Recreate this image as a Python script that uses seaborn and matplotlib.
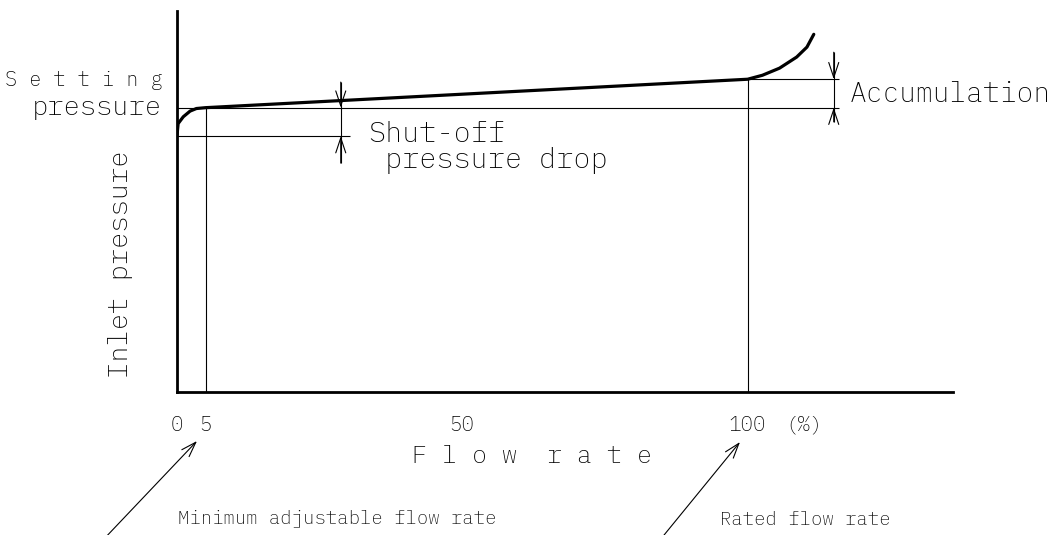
import matplotlib
matplotlib.use("Agg")
import matplotlib.pyplot as plt
import pandas as pd
import seaborn as sns

# valve characteristic
# flow rate in % of rated flow, inlet pressure in % of setting pressure
flow = [0, 0.2, 1.1, 2.3, 3.4, 5, 100, 102.6, 105.6, 108.6, 110.4, 111.6]
pressure = [90.3, 94.4, 96.8, 98.8, 99.7, 100, 110, 111.4, 113.9, 117.8, 121.3, 125.8]

setting_p = 100
shutoff_p = 90
rated_p = 110
min_flow = 5
rated_flow = 100

xticks = [0, 5, 50, 100]
xtick_labels = ["0", "5", "50", "100"]

W, H = 1055, 535


def px(x, y):
    # figure fraction from pixel position (top-left origin)
    return x / W, 1 - y / H


sns.set_theme(style="white")
plt.rcParams['font.family'] = ['IBM Plex Mono', 'DejaVu Sans']
plt.rcParams['font.weight'] = 'light'
plt.rcParams['axes.labelweight'] = 'light'

df = pd.DataFrame({'flow': flow, 'pressure': pressure})

fig = plt.figure(figsize=(W / 100, H / 100), dpi=100)
ax = fig.add_axes([177 / W, (H - 392) / H, 776 / W, 381 / H])

# reference lines
ax.hlines(setting_p, 0, 116, color='black', lw=0.8)
ax.hlines(shutoff_p, 0, 30.3, color='black', lw=0.8)
ax.hlines(rated_p, rated_flow, 116, color='black', lw=0.8)
ax.vlines(min_flow, 0, setting_p, color='black', lw=0.8)
ax.vlines(rated_flow, 0, rated_p, color='black', lw=0.8)

sns.lineplot(data=df, x='flow', y='pressure', sort=False, estimator=None,
             color='black', lw=2.3, ax=ax)

# dimension arrows
arrow = dict(arrowstyle='->,head_length=0.9,head_width=0.3', color='black',
             lw=0.8, shrinkA=0, shrinkB=0)
for xd, top, bottom, lo, hi in [(28.7, 109, 80.5, shutoff_p, setting_p),
                                (115.1, 119.5, 95, setting_p, rated_p)]:
    ax.vlines(xd, bottom, top, color='black', lw=0.8)
    ax.annotate("", xy=(xd, hi), xytext=(xd, top), arrowprops=arrow)
    ax.annotate("", xy=(xd, lo), xytext=(xd, bottom), arrowprops=arrow)

ax.set_xlim(0, 136)
ax.set_ylim(0, 134)
for side in ['top', 'right']:
    ax.spines[side].set_visible(False)
for side in ['left', 'bottom']:
    ax.spines[side].set_linewidth(2)
    ax.spines[side].set_color('black')

ax.set_yticks([])
ax.set_xticks(xticks, xtick_labels)
ax.set_xticks([50], minor=True)
ax.tick_params(axis='x', which='major', length=0, pad=17, labelsize=15,
               labelcolor='black')
ax.tick_params(axis='x', which='minor', bottom=True, direction='in',
               length=8, width=1.5, color='black')

ax.set_xlabel("F l o w  r a t e", fontsize=18, color='black',
              fontweight='light')
ax.xaxis.set_label_coords(0.457, -0.14)
ax.set_ylabel("Inlet pressure", fontsize=19.5, color='black',
              fontweight='light')
ax.yaxis.set_label_coords(-0.057, 0.335)

txt = dict(color='black', va='baseline', fontweight='light',
           transform=fig.transFigure)
fig.text(*px(163, 86), "S e t t i n g", ha='right', fontsize=14.5, **txt)
fig.text(*px(162, 115), "pressure", ha='right', fontsize=19.5, **txt)
fig.text(*px(368, 142), "Shut-off", ha='left', fontsize=20.5, **txt)
fig.text(*px(385, 168), "pressure drop", ha='left', fontsize=20.5, **txt)
fig.text(*px(850, 102), "Accumulation", ha='left', fontsize=20.2, **txt)
fig.text(*px(804, 430), "(%)", ha='center', fontsize=15, **txt)
fig.text(*px(178, 524), "Minimum adjustable flow rate", ha='left',
         fontsize=13.6, **txt)
fig.text(*px(720, 525), "Rated flow rate", ha='left', fontsize=13.6, **txt)

# pointer arrows to the flow rate marks
pointer = dict(arrowstyle='->,head_length=0.9,head_width=0.3', color='black',
               lw=0.8, shrinkA=0, shrinkB=0)
ax.annotate("", xy=px(197, 441), xycoords='figure fraction',
            xytext=px(103, 540), textcoords='figure fraction',
            arrowprops=pointer)
ax.annotate("", xy=px(740, 442), xycoords='figure fraction',
            xytext=px(660, 540), textcoords='figure fraction',
            arrowprops=pointer)

fig.savefig("out.png", dpi=100, facecolor='white')
